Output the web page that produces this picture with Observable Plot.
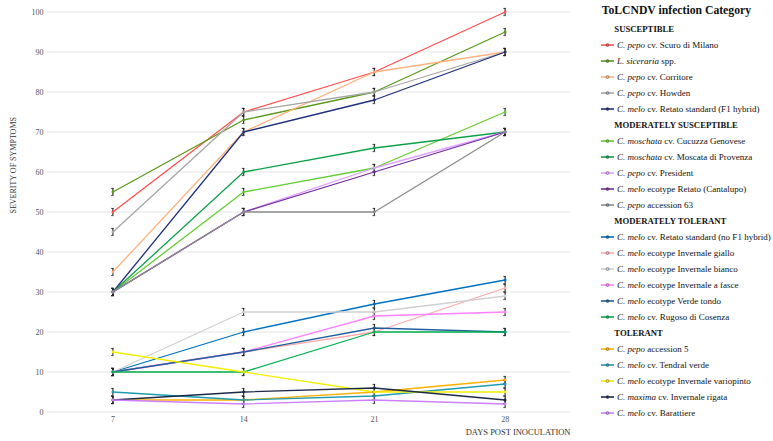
<!DOCTYPE html>
<html>
<head>
<meta charset="utf-8">
<script src="https://cdn.jsdelivr.net/npm/d3@7"></script>
<script src="https://cdn.jsdelivr.net/npm/@observablehq/plot@0.6"></script>
<style>
  html, body { margin: 0; padding: 0; background: #fff; }
  body { width: 773px; height: 441px; position: relative; overflow: hidden; font-family: "Liberation Serif", "Times New Roman", serif; }
  #chart { position: absolute; left: 0; top: 0; }
  #legend { position: absolute; left: 600px; top: 0; width: 173px; color: #111; }
  #legend .title { height: 21.3px; line-height: 22px; font-weight: bold; font-size: 11.7px; padding-left: 1.7px; white-space: nowrap; }
  #legend .hdr { height: 16px; line-height: 16px; font-weight: bold; font-size: 8.7px; padding-left: 14.3px; white-space: nowrap; }
  #legend .item { height: 16px; line-height: 16px; font-size: 9px; white-space: nowrap; display: flex; align-items: center; }
  #legend .item svg { flex: none; margin-left: 0.7px; margin-right: 3.3px; }
</style>
</head>
<body>
<div id="chart"></div>
<div id="legend"></div>
<script>
// ---------------- data ----------------
const days = [7, 14, 21, 28];
const yTicks = [0, 10, 20, 30, 40, 50, 60, 70, 80, 90, 100];
const legendTitle = "ToLCNDV infection Category";
const categories = ["SUSCEPTIBLE", "MODERATELY SUSCEPTIBLE", "MODERATELY TOLERANT", "TOLERANT"];
const category = [0,0,0,0,0, 1,1,1,1,1, 2,2,2,2,2,2, 3,3,3,3,3];
const species = [
  "C. pepo", "L. siceraria", "C. pepo", "C. pepo", "C. melo",
  "C. moschata", "C. moschata", "C. pepo", "C. melo", "C. pepo",
  "C. melo", "C. melo", "C. melo", "C. melo", "C. melo", "C. melo",
  "C. pepo", "C. melo", "C. melo", "C. maxima", "C. melo"
];
const varieties = [
  "cv. Scuro di Milano", "spp.", "cv. Corritore", "cv. Howden", "cv. Retato standard (F1 hybrid)",
  "cv. Cucuzza Genovese", "cv. Moscata di Provenza", "cv. President", "ecotype Retato (Cantalupo)", "accession 63",
  "cv. Retato standard (no F1 hybrid)", "ecotype Invernale giallo", "ecotype Invernale bianco", "ecotype Invernale a fasce", "ecotype Verde tondo", "cv. Rugoso di Cosenza",
  "accession 5", "cv. Tendral verde", "ecotype Invernale variopinto", "cv. Invernale rigata", "cv. Barattiere"
];
// severity of symptoms at 7, 14, 21, 28 days post inoculation
const severity = [
  [50, 75, 85, 100],
  [55, 73, 80, 95],
  [35, 70, 85, 90],
  [45, 75, 80, 90],
  [30, 70, 78, 90],
  [30, 55, 61, 75],
  [30, 60, 66, 70],
  [30, 50, 61, 70],
  [30, 50, 60, 70],
  [30, 50, 50, 70],
  [10, 20, 27, 33],
  [10, 15, 20, 31],
  [10, 25, 25, 29],
  [10, 15, 24, 25],
  [10, 15, 21, 20],
  [10, 10, 20, 20],
  [3, 3, 5, 8],
  [5, 3, 4, 7],
  [15, 10, 5, 5],
  [3, 5, 6, 3],
  [3, 2, 3, 2]
];
const errorHalf = 0.9;
const xLabel = "DAYS POST INOCULATION";
const yLabel = "SEVERITY OF SYMPTOMS";

// ---------------- styles ----------------
const colors = [
  "#ff5050", "#5b9a1b", "#ffb27f", "#a6a6a6", "#1f2f7a",
  "#66cc33", "#0ea14a", "#e0a0ff", "#7030a0", "#8c8c8c",
  "#0070c0", "#ffaaaa", "#d0d0d0", "#ff80ff", "#1f5fa0", "#00b050",
  "#ffb000", "#1f9bb0", "#f2ee00", "#1c2a48", "#cc80ff"
];

// ---------------- build ----------------
const seriesRows = severity.map((vals, i) => vals.map((v, j) => ({id: i, day: days[j], value: v})));
const allRows = seriesRows.flat();

const marks = [
  Plot.ruleY(yTicks, {stroke: "#e6e6e6", strokeWidth: 1})
];
seriesRows.forEach((rows, i) => {
  marks.push(Plot.line(rows, {x: "day", y: "value", stroke: colors[i], strokeWidth: 1.3}));
});
marks.push(
  Plot.ruleX(allRows, {x: "day", y1: d => d.value - errorHalf, y2: d => d.value + errorHalf, stroke: "#222", strokeWidth: 1.1}),
  Plot.ruleY(allRows, {y: d => d.value - errorHalf, x1: d => d.day - 0.07, x2: d => d.day + 0.07, stroke: "#222", strokeWidth: 0.8}),
  Plot.ruleY(allRows, {y: d => d.value + errorHalf, x1: d => d.day - 0.07, x2: d => d.day + 0.07, stroke: "#222", strokeWidth: 0.8}),
  Plot.dot(allRows, {x: "day", y: "value", r: 1.4, fill: d => colors[d.id], stroke: "none"}),
  Plot.axisY({ticks: yTicks, tickSize: 0, tickPadding: 4, fontSize: 8, fill: "#555", label: null}),
  Plot.axisX({ticks: days, tickSize: 0, tickPadding: 4, fontSize: 8, fill: "#555", label: null}),
  Plot.text([xLabel], {frameAnchor: "bottom-right", textAnchor: "end", lineAnchor: "middle", dy: 20.5, fontSize: 8.5, fill: "#333"}),
  Plot.text([yLabel], {frameAnchor: "left", rotate: -90, lineAnchor: "middle", dx: -34, dy: 1.5, fontSize: 8, fill: "#333"})
);

const chart = Plot.plot({
  width: 585,
  height: 441,
  marginLeft: 47,
  marginRight: 15,
  marginTop: 11.5,
  marginBottom: 29.5,
  style: {fontFamily: "'Liberation Serif', 'Times New Roman', serif", background: "#fff"},
  x: {domain: [3.5, 31.5], axis: null, label: null},
  y: {domain: [0, 100], axis: null, label: null},
  color: {type: "identity"},
  marks
});
document.getElementById("chart").appendChild(chart);

// ---------------- legend ----------------
const legend = d3.select("#legend");
legend.append("div").attr("class", "title").text(legendTitle);
categories.forEach((cat, c) => {
  legend.append("div").attr("class", "hdr").text(cat);
  category.forEach((cc, i) => {
    if (cc !== c) return;
    const row = legend.append("div").attr("class", "item");
    const sw = row.append("svg").attr("width", 13).attr("height", 6);
    sw.append("line").attr("x1", 0).attr("x2", 13).attr("y1", 3).attr("y2", 3)
      .attr("stroke", colors[i]).attr("stroke-width", 1.6);
    sw.append("circle").attr("cx", 6.5).attr("cy", 3).attr("r", 1.5).attr("fill", colors[i])
      .attr("stroke", "#333").attr("stroke-width", 0.4);
    const txt = row.append("span");
    txt.append("i").text(species[i]);
    txt.append("span").text(" " + varieties[i]);
  });
});
</script>
</body>
</html>
